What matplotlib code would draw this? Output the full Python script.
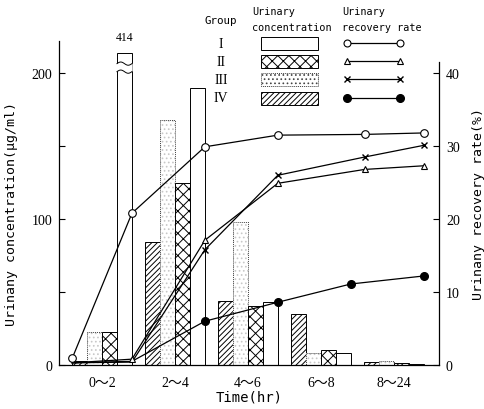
import numpy as np
import matplotlib
matplotlib.use('Agg')
import matplotlib.pyplot as plt
from matplotlib.patches import Rectangle, Polygon

#==================================
#          data
#==================================
intervals = ['0～2', '2～4', '4～6', '6～8', '8～24']
groups = ['I', 'II', 'III', 'IV']

# urinary concentration (ug/ml) per interval
conc_I = [414, 190, 43, 8.2, 0.8]
conc_II = [22.5, 125, 40.5, 10.5, 1.4]
conc_III = [22.5, 168, 98, 8.2, 2.7]
conc_IV = [2.7, 84, 44, 35, 2.0]

# cumulative urinary recovery rate (%) at 0, 2, 4, 6, 8, 24 hr
rate_I = [0.9, 20.8, 29.9, 31.5, 31.6, 31.8]
rate_II = [0.3, 0.8, 17.1, 24.9, 26.8, 27.3]
rate_III = [0.3, 0.4, 15.8, 26.0, 28.5, 30.1]
rate_IV = [0.3, 0.5, 6.0, 8.6, 11.1, 12.2]

#==================================
#          layout / style
#==================================
plt.rcParams['hatch.linewidth'] = 0.7
mono = 'DejaVu Sans Mono'
serif = 'Liberation Serif'

w = 0.205                    # width of one bar
x = np.arange(len(intervals))
clip_at = 214                # where the tall bar is cut off

fig = plt.figure(figsize=(4.85, 4.10), dpi=100)
ax = fig.add_axes([59/485, 44/410, 380/485, 324/410])
ax2 = ax.twinx()

ylim_left = 222
ax.set_xlim(-0.59, 4.62)
ax.set_ylim(0, ylim_left)
ax2.set_ylim(0, ylim_left/5)

#==================================
#          bars
#==================================
off = np.array([-1.5, -0.5, 0.5, 1.5])*w
ax.bar(x+off[0], conc_IV, w, facecolor='white', edgecolor='black',
       hatch='//////', linewidth=0.7, zorder=2)
ax.bar(x+off[1], conc_III, w, facecolor='white', edgecolor='#c8c8c8',
       hatch='....', linewidth=0, zorder=2)
ax.bar(x+off[1], conc_III, w, facecolor='none', edgecolor='#444444',
       linestyle=(0, (1, 1)), linewidth=0.7, zorder=2)
ax.bar(x+off[2], conc_II, w, facecolor='white', edgecolor='black',
       hatch='xxx', linewidth=0.7, zorder=2)
shown_I = np.minimum(conc_I, clip_at)
ax.bar(x+off[3], shown_I, w, facecolor='white', edgecolor='black',
       linewidth=0.7, zorder=2)

# break mark on the cut-off bar
for i, v in enumerate(conc_I):
    if v > clip_at:
        x0 = x[i]+off[3]-w/2
        xs = np.linspace(x0, x0+w, 50)
        low = 201 + 1.1*np.sin(2*np.pi*(xs-x0)/w)
        high = low + 5.5
        xp = np.concatenate([[x0-0.01], xs, [x0+w+0.01]])
        lp = np.concatenate([[low[0]], low, [low[-1]]])
        hp = np.concatenate([[high[0]], high, [high[-1]]])
        poly = Polygon(np.column_stack([np.r_[xp, xp[::-1]], np.r_[lp, hp[::-1]]]),
                       facecolor='white', edgecolor='none', zorder=3)
        ax.add_patch(poly)
        ax.plot(xs, low, color='black', lw=0.7, zorder=4)
        ax.plot(xs, high, color='black', lw=0.7, zorder=4)
        ax.text(x[i]+off[3], clip_at+11, '%d' % v, ha='center', va='center',
                fontsize=8.5, family=serif)

#==================================
#          recovery rate lines
#==================================
# time points sit on the group edges
x_pts = np.r_[x[0]-2*w, x+2*w]
x_open = x_pts.copy()
x_open[4] += 0.19            # open markers drawn a little later at 8 hr in the original

ax2.plot(x_pts, rate_IV, color='black', lw=0.9, marker='o', ms=5.5,
         mfc='black', mec='black', markevery=[2, 3, 4, 5], zorder=5)
ax2.plot(x_open, rate_III, color='black', lw=0.9, marker='x', ms=4,
         mew=1.0, markevery=[2, 3, 4, 5], zorder=5)
ax2.plot(x_open, rate_II, color='black', lw=0.9, marker='^', ms=5,
         mfc='white', mec='black', mew=0.8, markevery=[1, 2, 3, 4, 5], zorder=5)
ax2.plot(x_open, rate_I, color='black', lw=0.9, marker='o', ms=5.5,
         mfc='white', mec='black', mew=0.8, zorder=6)
ax2.set_zorder(ax.get_zorder()+1)
ax2.patch.set_visible(False)

#==================================
#          axes
#==================================
for a in (ax, ax2):
    a.spines['top'].set_visible(False)
    for s in a.spines.values():
        s.set_linewidth(0.9)
ax2.spines['left'].set_visible(False)
ax.spines['right'].set_visible(False)
ax2.spines['bottom'].set_visible(False)
ax2.spines['right'].set_bounds(0, 41.5)

ax.set_yticks([0, 100, 200])
ax.set_yticks([50, 150], minor=True)
ax.tick_params(axis='y', which='both', direction='in', length=4, width=0.8,
               labelsize=10, labelfontfamily=serif, pad=5)
ax2.set_yticks([0, 10, 20, 30, 40])
ax2.tick_params(axis='y', direction='in', length=4, width=0.8,
                labelsize=10, labelfontfamily=serif, pad=5)
ax.set_xticks(x, intervals, fontsize=10, family=[serif, 'Noto Sans CJK JP'])
ax.tick_params(axis='x', length=0, pad=8)

ax.set_ylabel('Urinany concentration(μg/ml)', family=mono, fontsize=9.5)
ax.yaxis.set_label_coords(-0.108, 0.47)
ax2.set_ylabel('Urinany recovery rate(%)', family=mono, fontsize=9.5,
               rotation=90)
ax2.yaxis.set_label_coords(1.087, 0.5)
ax.set_xlabel('Time(hr)', family=mono, fontsize=10, labelpad=0)

#==================================
#          legend (drawn by hand)
#==================================
lax = fig.add_axes([0, 0, 1, 1], zorder=10)
lax.set_xlim(0, 485)
lax.set_ylim(410, 0)
lax.axis('off')

lax.text(221, 21, 'Group', ha='center', va='center', family=mono, fontsize=7.8)
lax.text(252, 12, 'Urinary', ha='left', va='center', family=mono, fontsize=7.3)
lax.text(252, 28, 'concentration', ha='left', va='center', family=mono, fontsize=7.3)
lax.text(342, 12, 'Urinary', ha='left', va='center', family=mono, fontsize=7.3)
lax.text(342, 28, 'recovery rate', ha='left', va='center', family=mono, fontsize=7.3)

rows = [44, 62, 80, 99]
bar_style = [
    dict(facecolor='white', edgecolor='black', lw=0.7),
    dict(facecolor='white', edgecolor='black', hatch='xxx', lw=0.7),
    dict(facecolor='white', edgecolor='#444444', hatch='....', lw=0.7, ls=(0, (1, 1))),
    dict(facecolor='white', edgecolor='black', hatch='//////', lw=0.7),
]
line_style = [
    dict(marker='o', ms=5, mfc='white', mec='black', mew=0.8),
    dict(marker='^', ms=4.5, mfc='white', mec='black', mew=0.8),
    dict(marker='x', ms=4, mew=1.0, mec='black'),
    dict(marker='o', ms=5.5, mfc='black', mec='black'),
]
for g, yy, bs, ls in zip(groups, rows, bar_style, line_style):
    lax.text(221, yy, g, ha='center', va='center', family=serif, fontsize=10)
    lax.add_patch(Rectangle((261, yy-6.5), 57, 13, **bs))
    lax.plot([347, 400], [yy, yy], color='black', lw=0.9, **ls)

fig.savefig('out.png', dpi=100)
